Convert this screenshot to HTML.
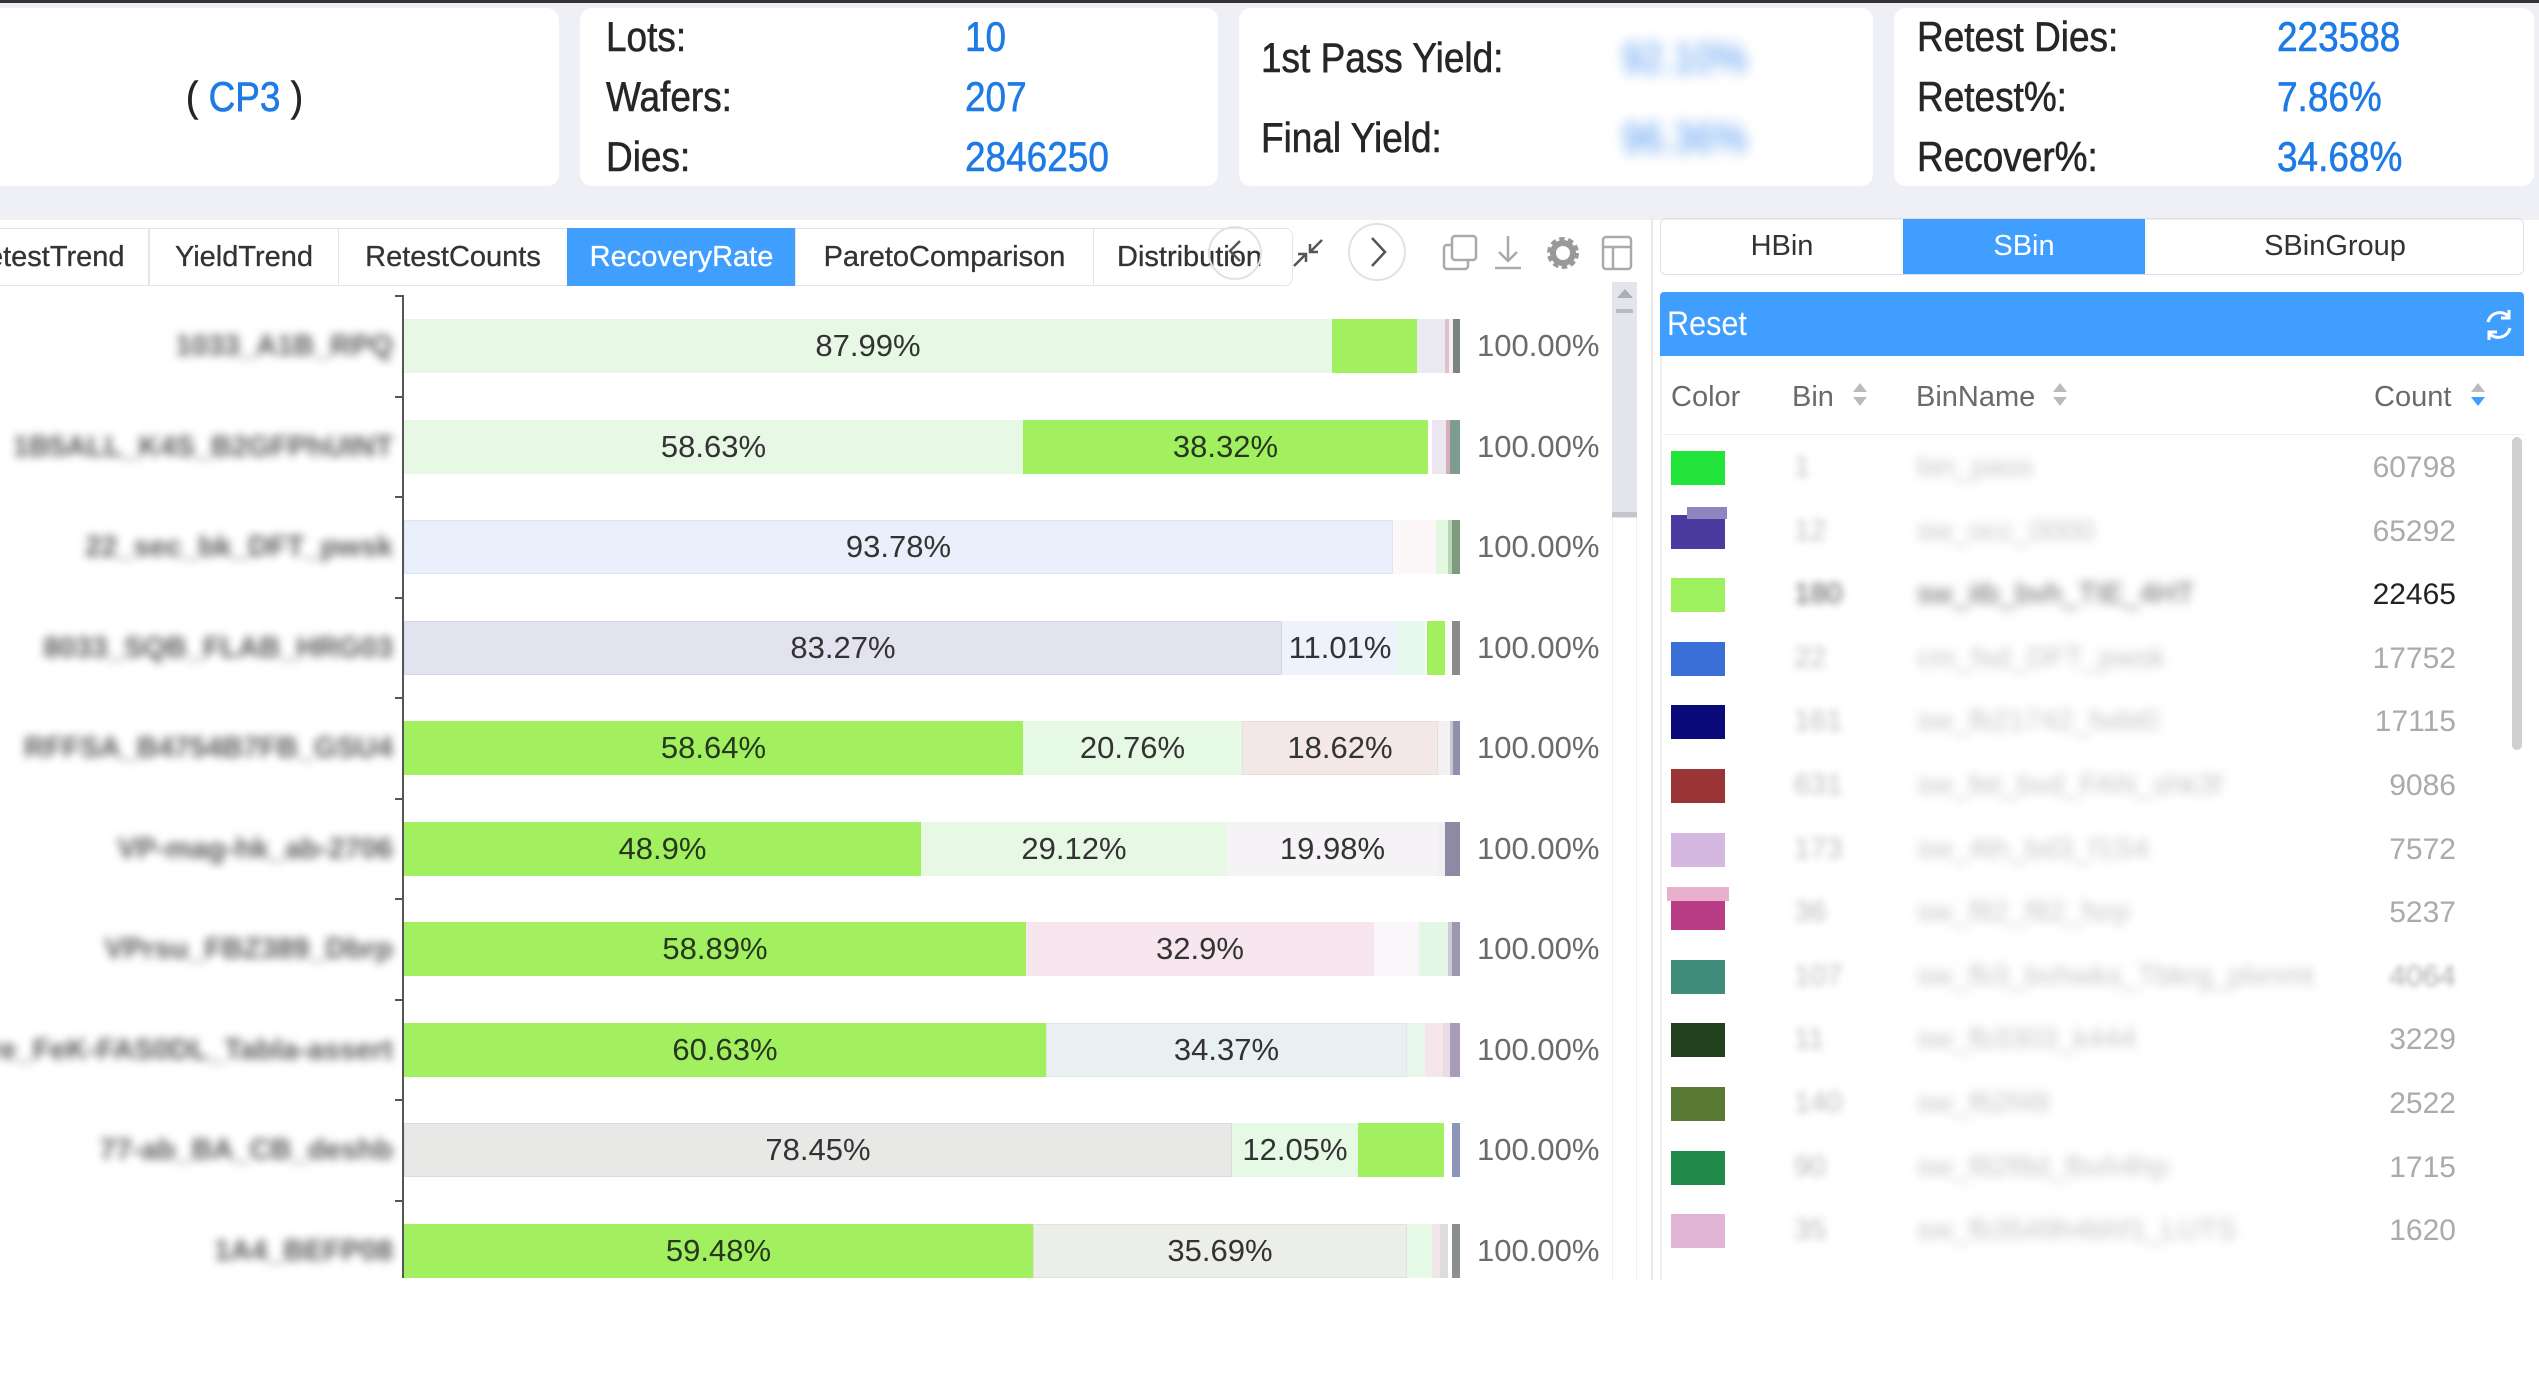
<!DOCTYPE html>
<html><head><meta charset="utf-8">
<style>
*{box-sizing:border-box}
body{margin:0;width:2539px;height:1390px;overflow:hidden;background:#fff;font-family:"Liberation Sans",Arial,sans-serif;position:relative}
.abs{position:absolute}
.card{position:absolute;top:8px;height:178px;background:#fff;border-radius:12px}
.h{position:absolute;font-size:42px;line-height:60px;transform:scaleX(.88);transform-origin:0 50%;white-space:nowrap;color:#262626;-webkit-text-stroke:0.6px currentColor}
.v{color:#1e7be6}
.tab{position:absolute;top:228px;height:58px;border:1px solid #e3e5e9;background:#fff;font-size:29px;line-height:56px;color:#333;text-align:center;white-space:nowrap;overflow:hidden;-webkit-text-stroke:0.3px currentColor}
.bar{position:absolute;left:404px;width:1056px;height:54px;display:flex}
.bar i{display:block;height:54px;font-style:normal;font-size:31px;line-height:54px;text-align:center;color:#333;white-space:nowrap;flex:none;overflow:visible}
.bar i.g{background:#a2f060;color:#26381d}
.pct{position:absolute;left:1477px;font-size:31px;line-height:54px;color:#6b6b6b}
.tick{position:absolute;left:395px;width:8px;height:2px;background:#555}
.yl{position:absolute;right:2146px;font-size:29px;line-height:54px;color:#5a5a5a;filter:blur(4.5px);white-space:nowrap;font-weight:bold}
.row{position:absolute;left:1662px;width:850px;height:63.6px}
.sq{position:absolute;left:9px;top:15px;width:54px;height:34px}
.bn{position:absolute;left:132px;top:0;line-height:63.6px;font-size:29px;color:#bbb;filter:blur(4px)}
.nm{position:absolute;left:255px;top:0;line-height:63.6px;font-size:29px;color:#c4c4c4;filter:blur(5px);white-space:nowrap}
.ct{position:absolute;right:56px;top:0;line-height:63.6px;font-size:30px;color:#ababab}
.th{position:absolute;top:372px;font-size:29px;line-height:50px;color:#6a6a6a}
.ar{position:absolute;width:0;height:0;border-left:7px solid transparent;border-right:7px solid transparent}
</style></head><body>

<!-- header background -->
<div class="abs" style="left:0;top:0;width:2539px;height:222px;background:#eef0f5"></div>
<div class="abs" style="left:0;top:0;width:2539px;height:3px;background:#333"></div>

<div class="card" style="left:0;width:559px;border-radius:0 12px 12px 0"></div>
<div class="card" style="left:580px;width:638px"></div>
<div class="card" style="left:1239px;width:634px"></div>
<div class="card" style="left:1894px;width:640px"></div>

<div class="h" style="left:186px;top:67px">( <span class="v">CP3</span> )</div>

<div class="h" style="left:606px;top:7px">Lots:</div>
<div class="h" style="left:606px;top:67px">Wafers:</div>
<div class="h" style="left:606px;top:127px">Dies:</div>
<div class="h v" style="left:965px;top:7px">10</div>
<div class="h v" style="left:965px;top:67px">207</div>
<div class="h v" style="left:965px;top:127px">2846250</div>

<div class="h" style="left:1261px;top:28px">1st Pass Yield:</div>
<div class="h" style="left:1261px;top:108px">Final Yield:</div>
<div class="h" style="left:1622px;top:28px;color:#6aa6f2;filter:blur(7px)">92.10%</div>
<div class="h" style="left:1622px;top:108px;color:#6aa6f2;filter:blur(7px)">96.36%</div>

<div class="h" style="left:1917px;top:7px">Retest Dies:</div>
<div class="h" style="left:1917px;top:67px">Retest%:</div>
<div class="h" style="left:1917px;top:127px">Recover%:</div>
<div class="h v" style="left:2277px;top:7px">223588</div>
<div class="h v" style="left:2277px;top:67px">7.86%</div>
<div class="h v" style="left:2277px;top:127px">34.68%</div>

<!-- left panel tabs -->
<div class="abs" style="left:0;top:220px;width:1652px;height:1170px;background:#fff"></div>
<div class="tab" style="left:-2px;width:151px;text-align:left"><span style="position:relative;left:-33px">RetestTrend</span></div>
<div class="tab" style="left:149px;width:190px">YieldTrend</div>
<div class="tab" style="left:338px;width:230px">RetestCounts</div>
<div class="tab" style="left:567px;width:229px;background:#409eff;border-color:#409eff;color:#fff">RecoveryRate</div>
<div class="tab" style="left:795px;width:299px">ParetoComparison</div>
<div class="tab" style="left:1093px;width:200px;border-radius:0 8px 8px 0;text-align:left;padding-left:23px">Distribution</div>

<!-- nav icons -->
<svg class="abs" style="left:1180px;top:215px" width="470" height="80" viewBox="1180 215 470 80">
  <circle cx="1235" cy="253" r="26" fill="none" stroke="#e2e2e2" stroke-width="2"/>
  <polyline points="1240,241 1230,251 1240,261" fill="none" stroke="#555" stroke-width="2.5"/>
  <g stroke="#555" stroke-width="2.5" fill="none">
    <line x1="1322" y1="240" x2="1310" y2="252"/><polyline points="1310,244 1310,252 1318,252"/>
    <line x1="1294" y1="266" x2="1306" y2="254"/><polyline points="1298,254 1306,254 1306,262"/>
  </g>
  <circle cx="1377" cy="252" r="28" fill="#fff" stroke="#e2e2e2" stroke-width="2"/>
  <polyline points="1372,238 1385,252 1372,266" fill="none" stroke="#555" stroke-width="2.5"/>
  <g stroke="#aaa" stroke-width="2.5" fill="none">
    <rect x="1444" y="245" width="24" height="24" rx="3"/>
    <rect x="1452" y="236" width="24" height="24" rx="3" fill="#fff"/>
    <line x1="1508" y1="236" x2="1508" y2="260"/><polyline points="1499,252 1508,261 1517,252"/>
    <line x1="1495" y1="268" x2="1521" y2="268"/>
    <rect x="1603" y="237" width="28" height="32" rx="3"/>
    <line x1="1603" y1="247" x2="1631" y2="247"/><line x1="1613" y1="247" x2="1613" y2="269"/>
  </g>
  <circle cx="1563" cy="253" r="13" fill="none" stroke="#999" stroke-width="6" stroke-dasharray="5 3.2"/>
  <circle cx="1563" cy="253" r="10" fill="none" stroke="#999" stroke-width="6"/>
</svg>

<!-- left scrollbar -->
<div class="abs" style="left:1612px;top:282px;width:25px;height:236px;background:#e2e5ea"></div>
<div class="abs" style="left:1617px;top:289px;width:0;height:0;border-left:8px solid transparent;border-right:8px solid transparent;border-bottom:9px solid #a9adb5"></div>
<div class="abs" style="left:1616px;top:309px;width:17px;height:4px;background:#b7bcc4"></div>
<div class="abs" style="left:1612px;top:512px;width:25px;height:5px;background:#c2c6cc"></div>
<div class="abs" style="left:1612px;top:518px;width:1px;height:762px;background:#f0f0f0"></div>
<div class="abs" style="left:1636px;top:518px;width:1px;height:762px;background:#f0f0f0"></div>
<div class="abs" style="left:1651px;top:218px;width:2px;height:1062px;background:#e8e8e8"></div>

<!-- y labels -->
<div class="yl" style="top:319px">1033_A1B_RPQ</div>
<div class="yl" style="top:419.5px">1B5ALL_K4S_B2GFPhUINT</div>
<div class="yl" style="top:520px">22_sec_bk_DFT_pwsk</div>
<div class="yl" style="top:620.5px">8033_SQB_FLAB_HRG03</div>
<div class="yl" style="top:721px">RFFSA_B4754B7FB_GSU4</div>
<div class="yl" style="top:821.5px">VP-mag-hk_ab-2706</div>
<div class="yl" style="top:922px">VPrsu_FBZ389_Dbrp</div>
<div class="yl" style="top:1022.5px">fare_FeK-FAS0DL_Tabla-assert</div>
<div class="yl" style="top:1123px">77-ab_BA_CB_deshb</div>
<div class="yl" style="top:1223.5px">1A4_BEFP08</div>

<!-- axis -->
<div class="abs" style="left:402px;top:295px;width:2px;height:983px;background:#555"></div>
<div class="tick" style="top:295px"></div><div class="tick" style="top:396px"></div><div class="tick" style="top:496px"></div>
<div class="tick" style="top:597px"></div><div class="tick" style="top:697px"></div><div class="tick" style="top:798px"></div>
<div class="tick" style="top:898px"></div><div class="tick" style="top:999px"></div><div class="tick" style="top:1099px"></div>
<div class="tick" style="top:1200px"></div>

<!-- bars -->
<div class="bar" style="top:319px"><i style="width:928px;background:#e7f9e4">87.99%</i><i class="g" style="width:85px"></i><i style="width:28px;background:#ebe9f2"></i><i style="width:4px;background:#e2bfcc"></i><i style="width:4px;background:#f3f0f5"></i><i style="width:7px;background:#7b837f"></i></div>
<div class="bar" style="top:419.5px"><i style="width:619px;background:#e7f9e4">58.63%</i><i class="g" style="width:405px">38.32%</i><i style="width:4px;background:#fff"></i><i style="width:14px;background:#ece6f0"></i><i style="width:4px;background:#d6adb8"></i><i style="width:10px;background:#7e9c90"></i></div>
<div class="bar" style="top:520px"><i style="width:989px;background:#e9f0fb;box-shadow:inset 0 0 0 1px #dce5f5">93.78%</i><i style="width:43px;background:#fcf8f9"></i><i style="width:12px;background:#e3f8e0"></i><i style="width:4px;background:#b9d6b2"></i><i style="width:8px;background:#7f9a7e"></i></div>
<div class="bar" style="top:620.5px"><i style="width:878px;background:#e2e3ef;box-shadow:inset 0 0 0 1px #d6d7e6">83.27%</i><i style="width:116px;background:#eef2fb">11.01%</i><i style="width:27px;background:#e6f9ec"></i><i style="width:2px;background:#fff"></i><i class="g" style="width:18px"></i><i style="width:7px;background:#fafafa"></i><i style="width:8px;background:#8a8c8c"></i></div>
<div class="bar" style="top:721px"><i class="g" style="width:619px">58.64%</i><i style="width:219px;background:#e6f9e4">20.76%</i><i style="width:196px;background:#f3e8e7;box-shadow:inset 0 0 0 1px #e8dcdb">18.62%</i><i style="width:12px;background:#f4f1f3"></i><i style="width:3px;background:#c8c8d0"></i><i style="width:7px;background:#8f8fae"></i></div>
<div class="bar" style="top:821.5px"><i class="g" style="width:517px">48.9%</i><i style="width:306px;background:#e7f9e4">29.12%</i><i style="width:211px;background:#f6f3f7">19.98%</i><i style="width:7px;background:#f2eff4"></i><i style="width:15px;background:#8e8aa6"></i></div>
<div class="bar" style="top:922px"><i class="g" style="width:622px">58.89%</i><i style="width:348px;background:#f7e6ee">32.9%</i><i style="width:45px;background:#fbf6f9"></i><i style="width:29px;background:#e4f7e4"></i><i style="width:4px;background:#d0c8d8"></i><i style="width:8px;background:#9c98b0"></i></div>
<div class="bar" style="top:1022.5px"><i class="g" style="width:642px">60.63%</i><i style="width:361px;background:#e9f0f1;box-shadow:inset 0 0 0 1px #dfe7e8">34.37%</i><i style="width:18px;background:#e7f8ea"></i><i style="width:18px;background:#f4e6ea"></i><i style="width:7px;background:#e8dde6"></i><i style="width:10px;background:#a89cb8"></i></div>
<div class="bar" style="top:1123px"><i style="width:828px;background:#e8e9e7;box-shadow:inset 0 0 0 1px #dcdddb">78.45%</i><i style="width:126px;background:#e5f9e5">12.05%</i><i class="g" style="width:86px"></i><i style="width:8px;background:#fff"></i><i style="width:8px;background:#8d96b8"></i></div>
<div class="bar" style="top:1223.5px"><i class="g" style="width:629px">59.48%</i><i style="width:374px;background:#eceeea;box-shadow:inset 0 0 0 1px #e0e2de">35.69%</i><i style="width:25px;background:#e6f8e6"></i><i style="width:8px;background:#f2e6ea"></i><i style="width:8px;background:#dddddd"></i><i style="width:4px;background:#fff"></i><i style="width:8px;background:#8a9090"></i></div>

<div class="pct" style="top:319px">100.00%</div>
<div class="pct" style="top:419.5px">100.00%</div>
<div class="pct" style="top:520px">100.00%</div>
<div class="pct" style="top:620.5px">100.00%</div>
<div class="pct" style="top:721px">100.00%</div>
<div class="pct" style="top:821.5px">100.00%</div>
<div class="pct" style="top:922px">100.00%</div>
<div class="pct" style="top:1022.5px">100.00%</div>
<div class="pct" style="top:1123px">100.00%</div>
<div class="pct" style="top:1223.5px">100.00%</div>

<!-- right panel -->
<div class="abs" style="left:1653px;top:220px;width:886px;height:1170px;background:#fff"></div>
<div class="abs" style="left:1660px;top:218px;width:864px;height:57px;border:1px solid #dcdfe6;border-radius:6px;overflow:hidden;font-size:29px;line-height:55px;color:#333">
  <div class="abs" style="left:0;top:0;width:242px;height:55px;text-align:center">HBin</div>
  <div class="abs" style="left:242px;top:0;width:242px;height:55px;text-align:center;background:#409eff;color:#fff">SBin</div>
  <div class="abs" style="left:484px;top:0;width:380px;height:55px;text-align:center">SBinGroup</div>
</div>

<div class="abs" style="left:1660px;top:292px;width:864px;height:64px;background:#409eff;border-radius:4px 4px 0 0"></div>
<div class="abs" style="left:1667px;top:292px;font-size:34px;line-height:64px;color:#fff;transform:scaleX(.9);transform-origin:0 50%">Reset</div>
<svg class="abs" style="left:2480px;top:306px" width="38" height="38" viewBox="0 0 38 38">
  <path d="M8 16 A12 12 0 0 1 29 11" fill="none" stroke="#fff" stroke-width="3"/>
  <polyline points="29,4 29,12 21,12" fill="none" stroke="#fff" stroke-width="3"/>
  <path d="M30 22 A12 12 0 0 1 9 27" fill="none" stroke="#fff" stroke-width="3"/>
  <polyline points="9,34 9,26 17,26" fill="none" stroke="#fff" stroke-width="3"/>
</svg>

<div class="abs" style="left:1660px;top:356px;width:2px;height:924px;background:#eef0f3"></div>
<div class="abs" style="left:1662px;top:434px;width:862px;height:1px;background:#f0f0f0"></div>

<div class="th" style="left:1671px">Color</div>
<div class="th" style="left:1792px">Bin</div>
<div class="ar" style="left:1853px;top:383px;border-bottom:9px solid #bbb"></div>
<div class="ar" style="left:1853px;top:397px;border-top:9px solid #bbb"></div>
<div class="th" style="left:1916px">BinName</div>
<div class="ar" style="left:2053px;top:383px;border-bottom:9px solid #bbb"></div>
<div class="ar" style="left:2053px;top:397px;border-top:9px solid #bbb"></div>
<div class="th" style="left:2374px">Count</div>
<div class="ar" style="left:2471px;top:383px;border-bottom:9px solid #bbb"></div>
<div class="ar" style="left:2471px;top:397px;border-top:9px solid #409eff"></div>

<div class="abs" style="left:2512px;top:437px;width:10px;height:313px;background:#cfcfcf;border-radius:5px"></div>

<div class="row" style="top:436px"><div class="sq" style="background:#22e33a"></div><div class="bn">1</div><div class="nm">bin_pass</div><div class="ct">60798</div></div>
<div class="row" style="top:499.6px"><div class="sq" style="background:#4b3aa0"></div><div class="abs" style="left:25px;top:7px;width:40px;height:12px;background:#8f86c0"></div><div class="bn">12</div><div class="nm">sw_occ_0000</div><div class="ct">65292</div></div>
<div class="row" style="top:563.2px"><div class="sq" style="background:#9ff05e"></div><div class="bn" style="color:#555">180</div><div class="nm" style="color:#666">sw_itb_bvh_TIE_4HT</div><div class="ct" style="color:#222">22465</div></div>
<div class="row" style="top:626.8px"><div class="sq" style="background:#3a6fd8"></div><div class="bn">22</div><div class="nm">cm_fsd_DFT_pwsk</div><div class="ct">17752</div></div>
<div class="row" style="top:690.4px"><div class="sq" style="background:#0a0a7a"></div><div class="bn">161</div><div class="nm">sw_fb21742_fwbt0</div><div class="ct">17115</div></div>
<div class="row" style="top:754px"><div class="sq" style="background:#9b3535"></div><div class="bn">631</div><div class="nm">sw_fet_bvd_FAN_shk3f</div><div class="ct">9086</div></div>
<div class="row" style="top:817.6px"><div class="sq" style="background:#d4b8e0"></div><div class="bn">173</div><div class="nm">sw_4th_bd3_f1S4</div><div class="ct">7572</div></div>
<div class="row" style="top:881.2px"><div class="abs" style="left:5px;top:6px;width:62px;height:14px;background:#e8b0cc"></div><div class="sq" style="background:#b83c86;top:20px;height:29px"></div><div class="bn">36</div><div class="nm">sw_f82_f82_fsrp</div><div class="ct">5237</div></div>
<div class="row" style="top:944.8px"><div class="sq" style="background:#3f8c7a"></div><div class="bn">107</div><div class="nm">sw_fb3_bvhwks_Tbkrg_plxnmt</div><div class="ct" style="filter:blur(3px)">4064</div></div>
<div class="row" style="top:1008.4px"><div class="sq" style="background:#23401c"></div><div class="bn">11</div><div class="nm">sw_fb3303_k444</div><div class="ct">3229</div></div>
<div class="row" style="top:1072px"><div class="sq" style="background:#587a34"></div><div class="bn">140</div><div class="nm">sw_f62f49</div><div class="ct">2522</div></div>
<div class="row" style="top:1135.6px"><div class="sq" style="background:#1f8a4a"></div><div class="bn">90</div><div class="nm">sw_f82f8d_fbvh4hp</div><div class="ct">1715</div></div>
<div class="row" style="top:1199.2px"><div class="sq" style="background:#e2b4d6"></div><div class="bn">35</div><div class="nm">sw_fb3549h4bhf1_LUTS</div><div class="ct">1620</div></div>

</body></html>
